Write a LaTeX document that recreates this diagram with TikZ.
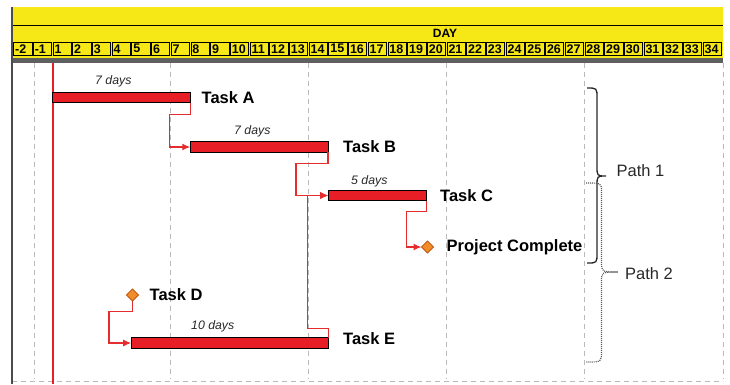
\documentclass[tikz,border=0pt]{standalone}
\usepackage{fontspec}
\setmainfont{Liberation Sans}
\usetikzlibrary{arrows.meta,shapes.geometric}
\definecolor{hdryellow}{RGB}{246,232,22}
\definecolor{barred}{RGB}{232,30,38}
\definecolor{linkred}{RGB}{230,45,45}
\definecolor{gridgray}{RGB}{185,185,185}
\definecolor{msorange}{RGB}{242,140,40}
\definecolor{msedge}{RGB}{190,90,20}
\definecolor{bandgray}{RGB}{95,95,95}
\definecolor{txtgray}{RGB}{40,40,40}
\begin{document}
\begin{tikzpicture}[x=1pt,y=-1pt,
  cellbox/.style={draw=black,line width=0.8pt,fill=hdryellow,inner xsep=1.5pt,inner ysep=0pt,
    minimum width=18.3pt,minimum height=13.5pt,text width=15.3pt,align=left,anchor=north west,
    font=\fontsize{12.5}{12.5}\selectfont\bfseries,outer sep=0pt},
  taskbar/.style={draw=black,line width=1pt,fill=barred,minimum height=10.5pt,inner sep=0pt,outer sep=0pt,anchor=west},
  milestone/.style={diamond,draw=msedge,line width=0.8pt,fill=msorange,minimum width=12pt,minimum height=12pt,inner sep=0pt,outer sep=0pt},
  tasklabel/.style={anchor=base west,inner sep=0pt,font=\fontsize{16.5}{18}\selectfont\bfseries,text=black},
  pathlabel/.style={anchor=base west,inner sep=0pt,font=\fontsize{16.5}{18}\selectfont,text=txtgray},
  durlabel/.style={anchor=base west,inner sep=0pt,font=\fontsize{12.3}{14}\selectfont\itshape,text=txtgray},
  link/.style={draw=linkred,line width=1.3pt,-{Latex[length=8pt,width=7pt]}},
  gridline/.style={draw=gridgray,line width=1pt,dash pattern=on 5pt off 4pt}]
\useasboundingbox (0,0) rectangle (730,384);
% header
\fill[hdryellow] (12,7) rectangle (723,58);
\draw[black,line width=1pt] (12,25) -- (723,25);
\fill[bandgray] (12,57.5) rectangle (723,62.5);
\node[font=\fontsize{12}{12}\selectfont\bfseries] (day) at (445,33) {DAY};
\foreach \lab [count=\i from 0] in {-2,-1,1,2,...,34} {
  \pgfmathsetmacro\xl{13+\i*19.7+0.6}
  \node[cellbox] (c\i) at (\xl,42) {\lab};
}
% grid
\foreach \gx in {34,170,308.5,446,584.5,723} {
  \draw[gridline] (\gx,62.5) -- (\gx,379);
}
\draw[gridline] (12,381.5) -- (723,381.5);
\draw[bandgray!80!black,line width=1.2pt] (12,7) -- (12,384);
\draw[barred,line width=2pt] (52.5,62.5) -- (52.5,384);
% bars
\node[taskbar,minimum width=137.8pt] (A) at (52.5,97.5) {};
\node[taskbar,minimum width=137.8pt] (B) at (190.3,147) {};
\node[taskbar,minimum width=98.5pt] (C) at (328.2,195.5) {};
\node[taskbar,minimum width=197pt] (E) at (131.2,343) {};
\node[milestone] (PC) at (427.5,247) {};
\node[milestone] (D) at (132.5,295) {};
% labels
\node[tasklabel] (lA) at (201.5,103) {Task A};
\node[tasklabel] (lB) at (343,152) {Task B};
\node[tasklabel] (lC) at (440,201) {Task C};
\node[tasklabel] (lE) at (343,344) {Task E};
\node[tasklabel] (lD) at (149.5,300.5) {Task D};
\node[tasklabel] (lPC) at (446.5,251.5) {Project Complete};
\node[durlabel] (dA) at (95,84) {7 days};
\node[durlabel] (dB) at (234,134) {7 days};
\node[durlabel] (dC) at (351,184) {5 days};
\node[durlabel] (dE) at (191,329.5) {10 days};
% links
\draw[link] (A.south east) -- ++(0,12) -- ++(-21,0) |- (B.west);
\draw[link] (B.south east) -- ++(0,11) -- ++(-32,0) |- (C.west);
\draw[link] (E.north east) -- ++(0,-9) -- ++(-20.5,0) |- (C.west);
\draw[link] (C.south east) -- ++(0,11) -- ++(-20.5,0) |- (PC.west);
\draw[link] (D.south) -- ++(0,10.5) -- ++(-23.5,0) |- (E.west);
% braces
\draw[black!85,line width=1.3pt] (587,88) .. controls (597,88) .. (597,98) -- (597,166)
  .. controls (597,176) .. (606,176) .. controls (597,176) .. (597,186) -- (597,253)
  .. controls (597,263) .. (587,263);
\draw[black!65,line width=1.2pt,dash pattern=on 1pt off 1pt] (586,183) .. controls (601.5,183) .. (601.5,192) -- (601.5,262)
  .. controls (601.5,272) .. (618,272) .. controls (601.5,272) .. (601.5,282) -- (601.5,352)
  .. controls (601.5,362) .. (586,362);
\node[pathlabel] (p1) at (616.5,176) {Path 1};
\node[pathlabel] (p2) at (625,279) {Path 2};
\end{tikzpicture}
\end{document}
